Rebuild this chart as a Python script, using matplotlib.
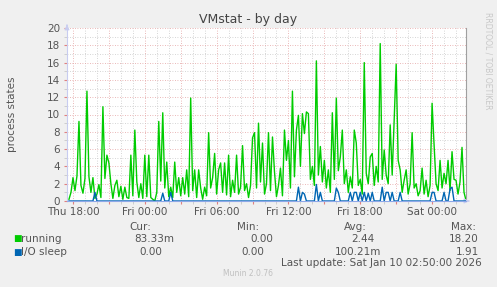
import numpy as np
import pandas as pd
import matplotlib
matplotlib.use("Agg")
import matplotlib.pyplot as plt
import matplotlib.dates as mdates
from matplotlib.ticker import MultipleLocator, FuncFormatter

# samples every 10 minutes, Thu 17:40 -> Sat 02:50
times = pd.date_range("2026-01-08 17:40", periods=200, freq="10min")

running = [
    0.2, 1.0, 2.7, 1.2, 2.9, 9.2, 1.8, 0.9, 2.6, 12.7,
    2.8, 1.0, 2.7, 0.3, 0.8, 1.9, 0.4, 10.9, 2.6, 5.3,
    4.4, 2.0, 0.3, 1.8, 2.4, 0.5, 1.7, 0.2, 1.6, 0.4,
    0.3, 5.3, 0.6, 8.2, 2.2, 0.4, 2.0, 0.3, 5.3, 0.5,
    5.3, 0.4, 0.2, 0.0, 1.0, 9.2, 2.3, 10.2, 1.5, 4.5,
    0.5, 1.6, 0.4, 4.5, 1.0, 2.7, 0.6, 2.7, 0.8, 3.6,
    0.5, 11.9, 1.2, 3.6, 0.4, 3.6, 1.5, 0.2, 1.6, 0.6,
    7.9, 1.5, 2.7, 5.5, 0.8, 3.6, 4.4, 1.0, 4.4, 0.7,
    5.3, 0.5, 2.4, 1.0, 5.3, 0.8, 1.6, 6.4, 1.2, 2.0,
    0.4, 1.8, 7.3, 7.9, 1.5, 9.0, 2.2, 6.7, 0.8, 2.0,
    7.9, 1.2, 7.4, 3.4, 0.5, 1.8, 3.8, 0.6, 8.2, 4.7,
    7.0, 1.5, 12.7, 2.8, 8.2, 9.9, 4.0, 10.1, 7.8, 10.3,
    10.1, 2.5, 4.0, 1.8, 16.2, 3.0, 6.3, 2.2, 4.7, 1.5,
    3.6, 1.0, 10.2, 2.5, 11.9, 3.5, 5.1, 8.2, 2.0, 3.6,
    1.0, 2.8, 1.5, 8.2, 6.7, 1.8, 2.5, 0.8, 16.0, 3.2,
    2.0, 5.1, 5.5, 1.8, 4.0, 2.2, 18.2, 2.5, 5.9, 3.0,
    2.0, 8.8, 3.0, 9.5, 15.8, 4.7, 3.6, 1.0, 2.4, 3.6,
    0.8, 2.0, 7.9, 1.5, 2.0, 0.6, 1.2, 3.8, 0.8, 2.4,
    0.5, 1.8, 11.3, 6.5, 2.0, 1.2, 4.7, 1.5, 3.2, 2.0,
    4.7, 1.2, 5.7, 2.5, 2.4, 0.8, 2.2, 6.2, 1.0, 0.083,
]

io_sleep = [
    0, 0, 0, 0, 0, 0, 0, 0, 0, 0, 0, 0, 0, 1.0, 0, 0, 0, 0, 0, 0,
    0, 0, 0, 0, 0, 0, 0, 0, 0, 0, 0, 0, 0, 0, 0, 0, 0, 0, 0, 0,
    0, 0, 0, 0, 0, 0, 0, 0.9, 0, 0, 0, 1.0, 0, 0, 0, 0, 0, 0, 0, 0,
    0, 0, 0, 0, 0, 0, 0, 0, 0, 0, 0, 0, 0, 0, 0, 0, 0, 0, 0, 0,
    0, 0, 0, 0, 0, 0, 0, 0, 0, 0, 0, 0, 0, 0, 0, 0, 0, 0, 0, 0,
    0, 0, 0, 0, 0, 0, 0, 0, 0, 0, 0, 0, 0, 0, 0, 1.6, 0, 1.0, 0.8, 0,
    0, 0, 0, 0, 1.91, 0, 1.0, 0, 0, 0, 0, 0, 0, 0, 1.5, 1.0, 0, 0, 0, 0,
    0, 1.0, 0, 1.0, 1.0, 0, 1.0, 0, 1.0, 0, 0.9, 0, 1.0, 0, 0, 0, 0, 1.6, 0, 1.0,
    1.0, 0, 1.0, 0, 0, 0, 1.0, 0, 0, 0, 0, 0, 0, 0, 0, 0, 0, 0, 0, 0,
    0, 0, 1.0, 1.0, 0, 0, 0, 0, 1.0, 0, 0, 1.4, 1.6, 0, 0, 0, 0, 0, 0, 0,
]

legend_rows = [
    ("running", "#00CC00", ["83.33m", "0.00", "2.44", "18.20"]),
    ("I/O sleep", "#0066B3", ["0.00", "0.00", "100.21m", "1.91"]),
]
col_heads = ["Cur:", "Min:", "Avg:", "Max:"]

BG = "#F0F0F0"
TXT = "#555555"

W, H = 497, 287
fig = plt.figure(figsize=(W / 100, H / 100), dpi=100, facecolor=BG)
ax = fig.add_axes([67 / W, 1 - 201 / H, 399 / W, 173 / H])
ax.set_facecolor("white")

ax.plot(times, running, color="#00CC00", lw=1.0, zorder=3)
ax.plot(times, io_sleep, color="#0066B3", lw=1.0, zorder=4)

ax.set_xlim(pd.Timestamp("2026-01-08 17:30"), pd.Timestamp("2026-01-10 02:50"))
ax.set_ylim(0, 20)

ax.xaxis.set_major_locator(mdates.HourLocator(byhour=range(0, 24, 3)))
ax.xaxis.set_minor_locator(mdates.HourLocator())
ax.xaxis.set_major_formatter(FuncFormatter(
    lambda v, p: mdates.num2date(v).strftime("%a %H:%M") if mdates.num2date(v).hour % 6 == 0 else ""))
ax.yaxis.set_major_locator(MultipleLocator(2))
ax.yaxis.set_minor_locator(MultipleLocator(1))

ax.grid(which="major", color="#E3A0A0", linestyle=(0, (1, 2)), lw=0.6, zorder=1)
ax.grid(which="minor", color="#C8C8C8", linestyle=(0, (1, 2)), lw=0.6, zorder=1)

ax.tick_params(which="major", length=2, color="#E08080", labelsize=7.5, labelcolor=TXT, pad=2)
ax.tick_params(which="minor", length=2, color="#C8C8C8")
ax.tick_params(axis="y", pad=3)

ax.spines["top"].set_visible(False)
ax.spines["right"].set_color("#A0A0A0")
ax.spines["left"].set_color("#C8CCF0")
ax.spines["bottom"].set_color("#8FA8E8")
ax.spines["bottom"].set_zorder(5)

# axis arrows
ax.annotate("", xy=(1.015, 0), xytext=(1.0, 0), xycoords="axes fraction",
            arrowprops=dict(arrowstyle="-|>", color="#C8CCF0", lw=0.8, mutation_scale=7),
            annotation_clip=False)
ax.annotate("", xy=(0, 1.035), xytext=(0, 1.0), xycoords="axes fraction",
            arrowprops=dict(arrowstyle="-|>", color="#C8CCF0", lw=0.8, mutation_scale=7),
            annotation_clip=False)

fig.text(248 / W, 1 - 20 / H, "VMstat - by day", ha="center", va="center", fontsize=9, color="#444444")
fig.text(12 / W, 1 - 114 / H, "process states", rotation=90, ha="center", va="center",
         fontsize=7.5, color=TXT)
fig.text(488 / W, 1 - 12 / H, "RRDTOOL / TOBI OETIKER", rotation=270, ha="center", va="top",
         fontsize=5.5, color="#C8C8C8")

col_right = [151, 259, 367, 476]
for head, xr in zip(col_heads, col_right):
    fig.text(xr / W, 1 - 227 / H, head, ha="right", va="center", fontsize=7.5, color=TXT)

val_right = [[174, 273, 374, 479], [162, 264, 381, 479]]
for r, (name, col, vals) in enumerate(legend_rows):
    y = 1 - (239 + 13 * r) / H
    fig.text(13 / W, y, "■", ha="left", va="center", fontsize=6.5, color=col)
    fig.text(21 / W, y, name, ha="left", va="center", fontsize=7.5, color=TXT)
    for v, xr in zip(vals, val_right[r]):
        fig.text(xr / W, y, v, ha="right", va="center", fontsize=7.5, color=TXT)

fig.text(482 / W, 1 - 263 / H, "Last update: Sat Jan 10 02:50:00 2026", ha="right", va="center",
         fontsize=7.5, color=TXT)
fig.text(248 / W, 1 - 274 / H, "Munin 2.0.76", ha="center", va="center", fontsize=5.5, color="#C0C0C0")

fig.savefig("out.png", dpi=100, facecolor=BG)
